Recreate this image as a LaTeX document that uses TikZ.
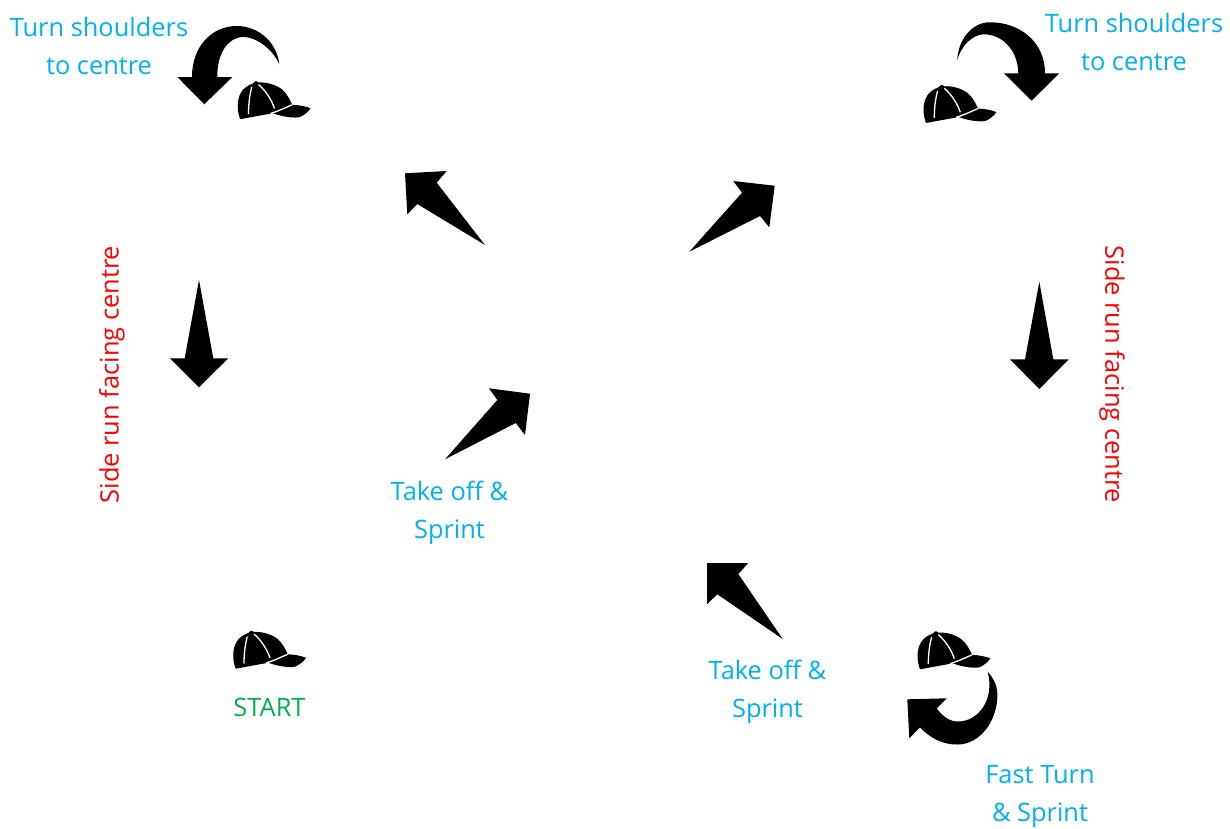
\documentclass[tikz,border=0pt]{standalone}
\usepackage{fontspec}
\setmainfont{Open Sans}
\definecolor{cyanlabel}{HTML}{00B0F0}
\definecolor{redlabel}{HTML}{FF0000}
\definecolor{greenlabel}{HTML}{00B050}
\tikzset{
  cuetext/.style={text=cyanlabel,font=\fontsize{25.4}{30}\selectfont,anchor=base,inner sep=0pt},
  sidetext/.style={text=redlabel,font=\fontsize{25.4}{30}\selectfont,anchor=center,inner sep=0pt},
  starttext/.style={text=greenlabel,font=\fontsize{25.4}{30}\selectfont,anchor=base,inner sep=0pt},
  blockarrow/.style={fill=black,draw=none},
  cap/.pic={
    \fill[black] (15.7,48.7) .. controls (13,42) and (11.5,30) .. (16.7,21.7)
      .. controls (19,17.5) and (24,14.5) .. (28.3,13)
      .. controls (29,10.5) and (32,9.8) .. (34,12)
      .. controls (41,11.5) and (50,13.5) .. (57,18.5)
      .. controls (62,22.5) and (65.5,29) .. (67.7,34.3)
      .. controls (74,34.5) and (80,35.5) .. (86,37.7)
      .. controls (84,41.5) and (79,45) .. (75,46.7)
      .. controls (70,47.5) and (60,47) .. (48.3,42.7) -- cycle;
    \draw[white,line width=1.3pt] (27.3,16.5) .. controls (25,25) and (24,34) .. (24,43.5);
    \draw[white,line width=1.3pt] (34,14) .. controls (41,20) and (47,29) .. (50,38);
    \draw[white,line width=1.3pt] (46,43) .. controls (53,41) and (60,37.5) .. (67.7,34.3);
  }
}
\begin{document}
\begin{tikzpicture}[x=1pt,y=-1pt]
\useasboundingbox (0,0) rectangle (1230,828);
% straight arrows
\fill[blockarrow] (199,280) -- (213.3,358.3) -- (228.3,358.3) -- (199,387.3) -- (170,358.3) -- (184.7,358.3) -- cycle;
\fill[blockarrow] (1039.3,281.7) -- (1053.3,359.3) -- (1068.7,359.3) -- (1039.3,389) -- (1010,359.3) -- (1025,359.3) -- cycle;
\fill[blockarrow] (485,245) -- (436.7,182.7) -- (446.7,171) -- (405,173.3) -- (407.3,214.3) -- (417.3,204) -- cycle;
\fill[blockarrow] (689.3,251.7) -- (742,192.7) -- (733.3,181) -- (774.7,185.7) -- (769.3,227.3) -- (760,216) -- cycle;
\fill[blockarrow] (445,459.3) -- (497.3,400) -- (489,388.3) -- (530,393.7) -- (525,435) -- (515.7,423) -- cycle;
\fill[blockarrow] (782.7,639) -- (738.3,574) -- (748.3,563) -- (707,563) -- (707,604.3) -- (717.3,594.3) -- cycle;
% curved arrows
\fill[blockarrow] (279.3,64.3) .. controls (277,42) and (258,26) .. (237,26)
  .. controls (212,26) and (192,46) .. (192,77) -- (177.3,77) -- (204.3,104.3) -- (232.3,77) -- (217.3,77)
  .. controls (217,52) and (229,36) .. (245,37)
  .. controls (258,38) and (273,50) .. cycle;
\fill[blockarrow] (957.3,60) .. controls (958,40) and (972,22) .. (990,22.3)
  .. controls (1020,22.3) and (1045,42) .. (1045,73.3) -- (1059.3,73.3) -- (1031.7,100.7) -- (1004,73.3) -- (1018.3,73.3)
  .. controls (1018,50) and (1002,34) .. (983.3,34.3)
  .. controls (972,35) and (961,46) .. cycle;
\fill[blockarrow] (987.7,671.7) .. controls (995,680) and (998,688) .. (997.3,698)
  .. controls (996,722) and (980,744) .. (958,744.5)
  .. controls (943,745) and (930,738) .. (920,727.3) -- (909.3,738.3) -- (907.3,699.3) -- (946.7,698.3) -- (936.7,708.3)
  .. controls (943,717) and (950,721.5) .. (958,721.5)
  .. controls (978,721.5) and (995,700) .. cycle;
% caps
\pic at (224.5,70.5) {cap};
\pic at (910.3,74.3) {cap};
\pic at (904.3,620.6) {cap};
\pic at (220,620) {cap};
% labels
\node[cuetext] (tl1) at (99,36) {Turn shoulders};
\node[cuetext] (tl2) at (99,74) {to centre};
\node[cuetext] (tr1) at (1134,32) {Turn shoulders};
\node[cuetext] (tr2) at (1134,70) {to centre};
\node[sidetext,rotate=90] (sl) at (112,374.5) {Side run facing centre};
\node[sidetext,rotate=-90] (sr) at (1112,374.5) {Side run facing centre};
\node[cuetext] (m1) at (449.5,500) {Take off \&};
\node[cuetext] (m2) at (449.5,538) {Sprint};
\node[cuetext] (b1) at (767.5,679) {Take off \&};
\node[cuetext] (b2) at (767.5,717) {Sprint};
\node[cuetext] (f1) at (1040,783) {Fast Turn};
\node[cuetext] (f2) at (1040,821) {\& Sprint};
\node[starttext] (st) at (269.5,716) {START};
\end{tikzpicture}
\end{document}
